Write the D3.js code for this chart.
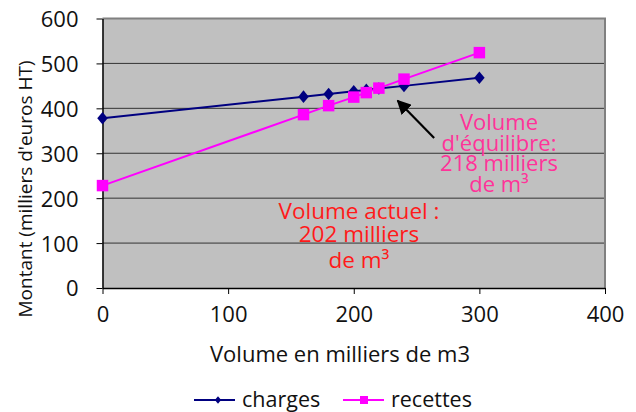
<!DOCTYPE html>
<html>
<head>
<meta charset="utf-8">
<script src="https://cdn.jsdelivr.net/npm/d3@7"></script>
<style>
  body { margin: 0; background: #fff; }
  svg text { font-family: "Open Sans", sans-serif; }
</style>
</head>
<body>
<div id="chart"></div>
<script>
// volumes (milliers de m3)
var volumes = [0, 160, 180, 200, 210, 220, 240, 300];
// montants (milliers d'euros HT)
var charges = [378, 426, 432, 438, 441, 444, 450, 468];
var recettes = [228, 386, 406, 425, 435, 445, 465, 524];
var xTicks = [0, 100, 200, 300, 400];
var yTicks = [0, 100, 200, 300, 400, 500, 600];
var seriesNames = ["charges", "recettes"];

var W = 636, H = 412;
var margin = {top: 18.5, right: 31, bottom: 124, left: 102.5},
    width = W - margin.left - margin.right,
    height = H - margin.top - margin.bottom;

var svg = d3.select("#chart")
    .append("svg")
    .attr("width", W)
    .attr("height", H);

var g = svg.append("g")
    .attr("transform", "translate(" + margin.left + "," + margin.top + ")");

var x = d3.scaleLinear().domain([0, 400]).range([0, width]);
var y = d3.scaleLinear().domain([0, 600]).range([height, 0]);

// plot background
g.append("rect")
    .attr("width", width)
    .attr("height", height)
    .attr("fill", "#c0c0c0");

// gridlines
g.selectAll("line.grid")
    .data(yTicks.filter(function(d){ return d > 0 && d < 600; }))
    .enter()
    .append("line")
    .attr("class", "grid")
    .attr("x1", 0).attr("x2", width)
    .attr("y1", function(d){ return y(d); })
    .attr("y2", function(d){ return y(d); })
    .attr("stroke", "#333")
    .attr("stroke-width", 1);

// top + right border (grey)
g.append("path")
    .attr("d", "M0," + y(600) + "H" + x(400) + "V" + y(0))
    .attr("fill", "none")
    .attr("stroke", "#808080")
    .attr("stroke-width", 2);

// axes
var xAxis = g.append("g")
    .attr("transform", "translate(0," + height + ")")
    .call(d3.axisBottom(x).tickValues(xTicks).tickSizeInner(6).tickSizeOuter(0).tickPadding(17));

var yAxis = g.append("g")
    .call(d3.axisLeft(y).tickValues(yTicks).tickSizeInner(6).tickSizeOuter(0).tickPadding(18));

[xAxis, yAxis].forEach(function(a){
    a.select(".domain").attr("stroke", "#000").attr("stroke-width", 1.5);
    a.selectAll(".tick line").attr("stroke", "#000");
    a.selectAll("text")
        .style("font-family", "'Open Sans', sans-serif")
        .style("font-size", "22px")
        .attr("fill", "#111");
});
xAxis.selectAll("text").attr("dy", "0.5em");
yAxis.selectAll("text").attr("dy", "0.36em");

// axis titles
svg.append("text")
    .attr("x", 340)
    .attr("y", 362)
    .attr("text-anchor", "middle")
    .style("font-size", "22px")
    .attr("fill", "#111")
    .text("Volume en milliers de m3");

svg.append("text")
    .attr("transform", "translate(32," + 189 + ") rotate(-90)")
    .attr("text-anchor", "middle")
    .style("font-size", "19px")
    .attr("fill", "#111")
    .text("Montant (milliers d'euros HT)");

// custom diamond (wider than d3's)
var diamond = {
    draw: function(context, size) {
        var r = Math.sqrt(size) / 2;
        context.moveTo(0, -r * 1.2);
        context.lineTo(r, 0);
        context.lineTo(0, r * 1.2);
        context.lineTo(-r, 0);
        context.closePath();
    }
};

var series = [
    {name: seriesNames[0], values: charges, color: "#000080", symbol: diamond, size: 110},
    {name: seriesNames[1], values: recettes, color: "#ff00ff", symbol: d3.symbolSquare, size: 132}
];

var line = d3.line()
    .x(function(d){ return x(d[0]); })
    .y(function(d){ return y(d[1]); });

series.forEach(function(s){
    var pts = volumes.map(function(v, i){ return [v, s.values[i]]; });

    g.append("path")
        .datum(pts)
        .attr("d", line)
        .attr("fill", "none")
        .attr("stroke", s.color)
        .attr("stroke-width", 2);

    g.selectAll("path.pt-" + s.name)
        .data(pts)
        .enter()
        .append("path")
        .attr("class", "pt-" + s.name)
        .attr("d", d3.symbol().type(s.symbol).size(s.size))
        .attr("transform", function(d){ return "translate(" + x(d[0]) + "," + y(d[1]) + ")"; })
        .attr("fill", s.color);
});

// arrow to break-even
svg.append("defs").append("marker")
    .attr("id", "arrow")
    .attr("viewBox", "0 0 10 10")
    .attr("refX", 9).attr("refY", 5)
    .attr("markerWidth", 6.5).attr("markerHeight", 6.5)
    .attr("orient", "auto")
    .append("path")
    .attr("d", "M0,0L10,5L0,10z")
    .attr("fill", "#000");

g.append("line")
    .attr("x1", x(264)).attr("y1", y(334))
    .attr("x2", x(235)).attr("y2", y(417))
    .attr("stroke", "#000")
    .attr("stroke-width", 2.2)
    .attr("marker-end", "url(#arrow)");

// annotations
function block(lines, cx, y0, lh, size, color){
    var t = svg.append("text")
        .attr("text-anchor", "middle")
        .style("font-size", size + "px")
        .attr("fill", color);
    lines.forEach(function(l, i){
        t.append("tspan").attr("x", cx).attr("y", y0 + lh[i]).text(l);
    });
}
block(["Volume", "d'équilibre:", "218 milliers", "de m³"], 499, 130, [0, 20.5, 41, 62], 22, "#ff3399");
block(["Volume actuel :", "202 milliers", "de m³"], 359, 219, [0, 23, 49], 22.5, "#ff1a1a");

// legend
var legend = svg.append("g").attr("transform", "translate(0,400)");
var legX = [194, 343];
series.forEach(function(s, i){
    var lg = legend.append("g").attr("transform", "translate(" + legX[i] + ",0)");
    lg.append("line")
        .attr("x1", 0).attr("x2", 41)
        .attr("stroke", s.color).attr("stroke-width", 2);
    lg.append("path")
        .attr("d", d3.symbol().type(s.symbol).size(i === 0 ? 40 : 64))
        .attr("transform", "translate(" + (i === 0 ? 24 : 21) + ",0)")
        .attr("fill", s.color);
    lg.append("text")
        .attr("x", 48)
        .attr("y", 0)
        .attr("dy", "0.32em")
        .style("font-size", "21.5px")
        .attr("fill", "#111")
        .text(s.name);
});
</script>
</body>
</html>
